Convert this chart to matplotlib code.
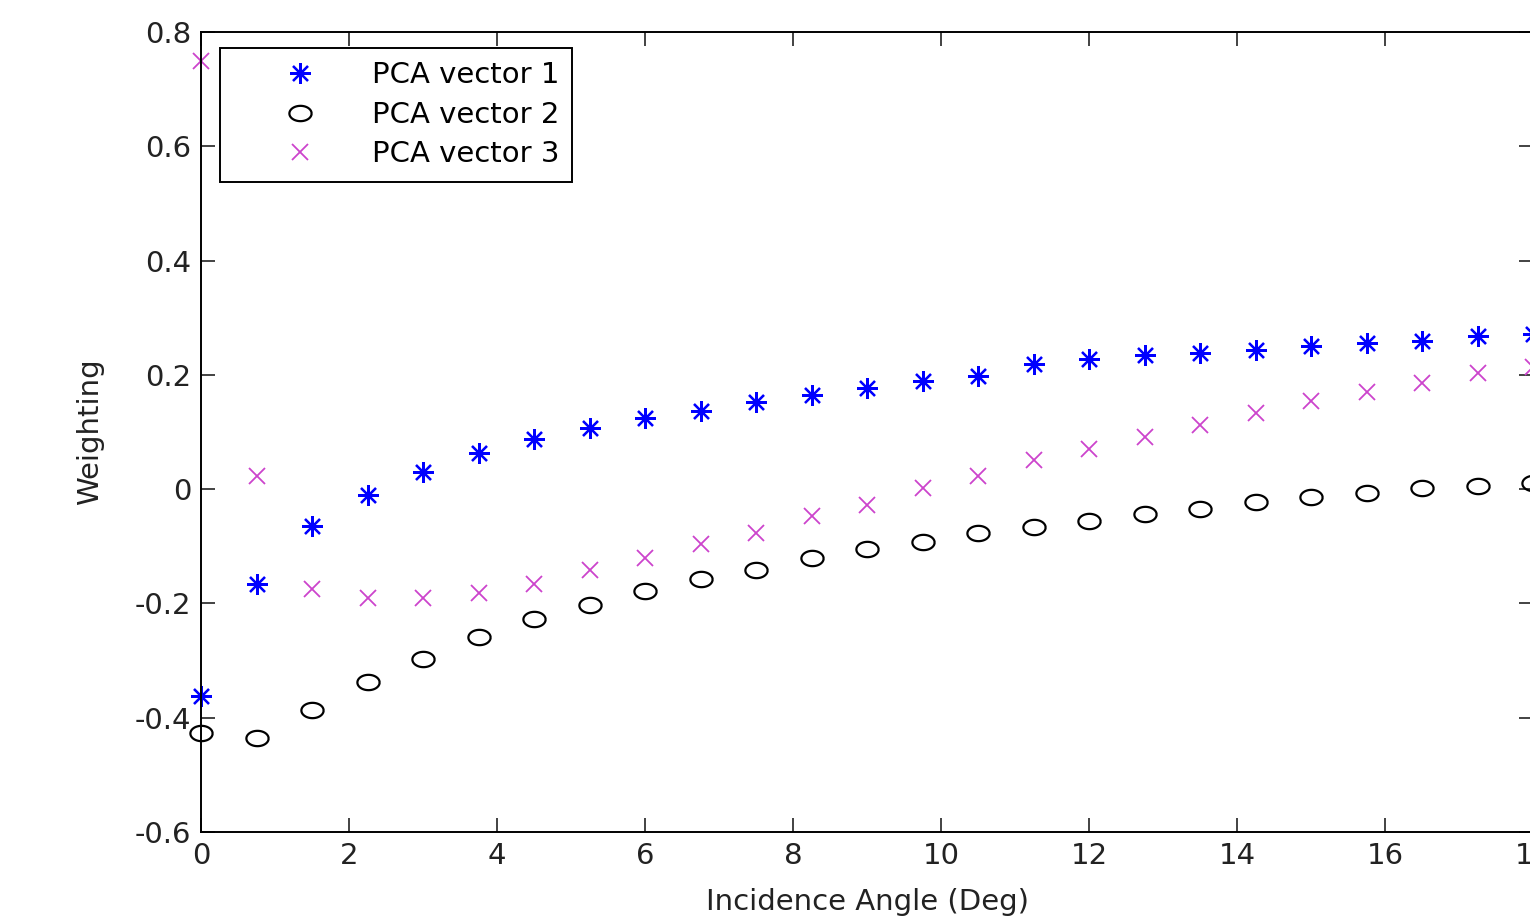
import numpy as np
import matplotlib
matplotlib.use("Agg")
import matplotlib.pyplot as plt
from matplotlib.path import Path

plt.rcParams["font.family"] = ["DejaVu Sans"]
plt.rcParams["axes.unicode_minus"] = False

# ---------------------------------------------------------------
# Data: PCA weightings, one point every 0.75 deg
# ---------------------------------------------------------------
angle = [0, 0.75, 1.5, 2.25, 3, 3.75, 4.5, 5.25, 6, 6.75, 7.5, 8.25, 9,
         9.75, 10.5, 11.25, 12, 12.75, 13.5, 14.25, 15, 15.75, 16.5, 17.25, 18]

pca1 = [-0.362, -0.166, -0.065, -0.011, 0.030, 0.063, 0.088, 0.107, 0.124,
        0.137, 0.152, 0.165, 0.177, 0.189, 0.198, 0.219, 0.228, 0.235, 0.238,
        0.243, 0.250, 0.256, 0.259, 0.268, 0.271]

pca2 = [-0.427, -0.436, -0.387, -0.338, -0.298, -0.259, -0.228, -0.203, -0.179,
        -0.158, -0.142, -0.121, -0.105, -0.093, -0.077, -0.067, -0.056, -0.044,
        -0.035, -0.023, -0.014, -0.007, 0.002, 0.005, 0.010]

pca3 = [0.749, 0.023, -0.175, -0.191, -0.191, -0.182, -0.166, -0.142, -0.121,
        -0.096, -0.077, -0.047, -0.028, 0.002, 0.023, 0.051, 0.070, 0.091,
        0.112, 0.133, 0.154, 0.170, 0.186, 0.203, 0.214]

labels = ["PCA vector 1", "PCA vector 2", "PCA vector 3"]

# slightly wide ellipse, the original picture is stretched sideways
t = np.linspace(0, 2 * np.pi, 60)
ellipse = Path(np.column_stack([1.45 * np.cos(t), np.sin(t)]))

fig = plt.figure(figsize=(15.3, 9.23), dpi=100)
ax = fig.add_axes([201 / 1530, 1 - 832 / 923, 1332 / 1530, 800 / 923])

ax.plot(angle, pca1, linestyle="none", marker=(8, 2, 0), markersize=15,
        markeredgewidth=1.6, color="#0000ff", label=labels[0], clip_on=False)
ax.plot(angle, pca2, linestyle="none", marker=ellipse, markersize=16,
        markeredgewidth=1.6, markerfacecolor="none", markeredgecolor="black",
        label=labels[1], clip_on=False)
ax.plot(angle, pca3, linestyle="none", marker="x", markersize=11,
        markeredgewidth=1.3, color="#cc44cc", label=labels[2], clip_on=False)

ax.set_xlim(0, 18)
ax.set_ylim(-0.6, 0.8)
ax.set_xticks(np.arange(0, 19, 2))
ax.set_yticks(np.round(np.arange(-0.6, 0.81, 0.2), 1))
ax.set_yticklabels(["-0.6", "-0.4", "-0.2", "0", "0.2", "0.4", "0.6", "0.8"])

ax.tick_params(direction="in", length=10, width=1.2, labelsize=21,
               top=True, right=True, pad=7, colors="#222222")
for sp in ax.spines.values():
    sp.set_linewidth(1.4)
    sp.set_color("black")

ax.set_xlabel("Incidence Angle (Deg)", fontsize=21, labelpad=13, color="#222222")
ax.set_ylabel("Weighting", fontsize=21, labelpad=22, color="#222222")

leg = ax.legend(loc="upper left", bbox_to_anchor=(0.0143, 0.98),
                borderaxespad=0, fontsize=21, handlelength=4.6,
                handletextpad=0.15, borderpad=0.45, labelspacing=0.4,
                fancybox=False, framealpha=1, edgecolor="black")
leg.get_frame().set_linewidth(1.4)

fig.savefig("out.png", dpi=100)
